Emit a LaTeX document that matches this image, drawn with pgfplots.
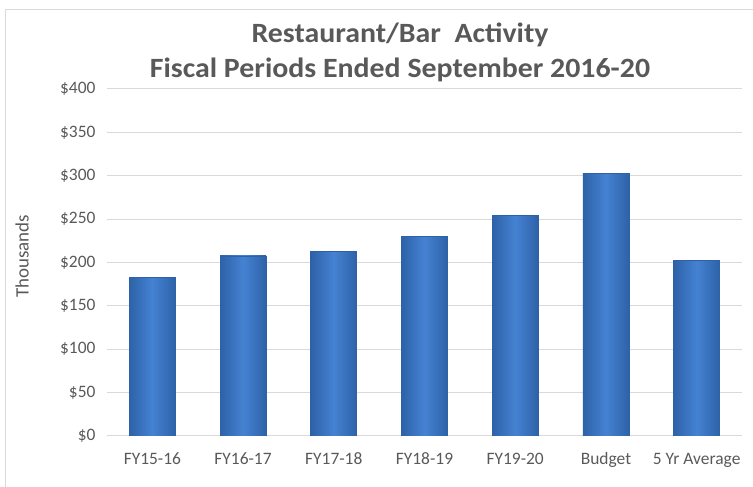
\documentclass[border=0pt]{standalone}
\usepackage{pgfplots}
\pgfplotsset{compat=1.18}
\usepackage{fontspec}
\setmainfont{Carlito}
\definecolor{txt}{HTML}{595959}
\definecolor{grid}{HTML}{D9D9D9}
\definecolor{barmid}{HTML}{4482D2}
\definecolor{baredge}{HTML}{2E62A8}
\pgfplotsset{mybar/.style={ybar, bar width=46bp, bar shift=0pt, draw=baredge, line width=0.6bp,
    left color=baredge, right color=baredge, middle color=barmid}}
\begin{document}
\begin{tikzpicture}[x=1bp,y=1bp]
\useasboundingbox (0,0) rectangle (753,487);
\draw[color=grid, line width=0.8bp] (5,-2) -- (5,478) -- (760,478);
\node[font=\fontsize{28}{30}\selectfont\bfseries, text=txt, anchor=base, xscale=1.07, transform shape] at (400,444.5) {Restaurant/Bar\ \ Activity};
\node[font=\fontsize{28}{30}\selectfont\bfseries, text=txt, anchor=base, xscale=1.07, transform shape] at (400,409.5) {Fiscal Periods Ended September 2016-20};
\begin{axis}[
  at={(107bp,51bp)}, anchor=south west,
  width=635bp, height=347bp, scale only axis,
  xmin=-0.5, xmax=6.5, ymin=0, ymax=400,
  axis line style={draw=none},
  ytick={0,50,...,400},
  yticklabels={\$0,\$50,\$100,\$150,\$200,\$250,\$300,\$350,\$400},
  xtick={0,...,6},
  xticklabels={FY15-16,FY16-17,FY17-18,FY18-19,FY19-20,Budget,5 Yr Average},
  major tick length=0pt,
  ymajorgrids, grid style={color=grid, line width=1bp},
  tick label style={font=\fontsize{17.5}{19}\selectfont, text=txt},
  yticklabel style={xshift=-8bp},
  xticklabel style={yshift=-13bp, text height=12bp, text depth=4bp},
  ylabel={Thousands},
  ylabel style={font=\fontsize{19}{21}\selectfont, text=txt, at={(rel axis cs:0,0.5)}, anchor=center, xshift=6bp, yshift=85bp},
]
\addplot[mybar] coordinates {(0,183)};
\addplot[mybar] coordinates {(1,207.5)};
\addplot[mybar] coordinates {(2,213)};
\addplot[mybar] coordinates {(3,230)};
\addplot[mybar] coordinates {(4,254)};
\addplot[mybar] coordinates {(5,303)};
\addplot[mybar] coordinates {(6,202)};
\end{axis}
\end{tikzpicture}
\end{document}
